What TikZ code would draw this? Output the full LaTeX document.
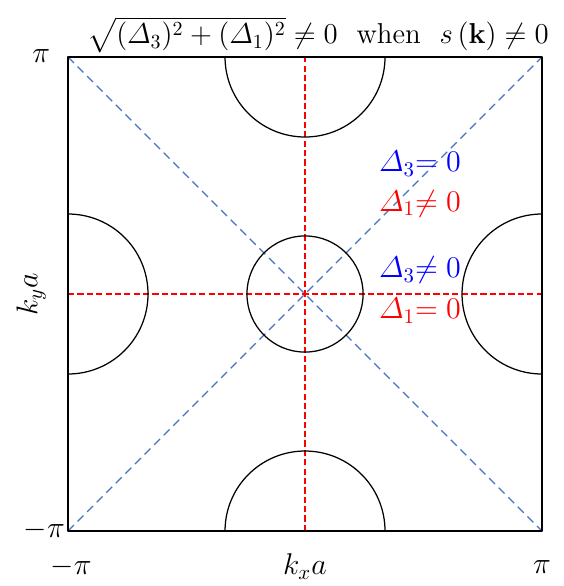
\documentclass[tikz,border=0pt]{standalone}
\usepackage{amsmath,amssymb}
\usetikzlibrary{calc}
\definecolor{diagblue}{RGB}{68,114,196}
\definecolor{gapblue}{RGB}{0,0,255}
\definecolor{gapred}{RGB}{255,0,0}

\begin{document}
\begin{tikzpicture}[line join=round,
 zoneline/.style={black,semithick},
 diagline/.style={diagblue,semithick,dash pattern=on 4pt off 2.5pt},
 axisline/.style={gapred,semithick,dash pattern=on 3pt off 1.5pt},
 ticklbl/.style={font=\Large},
 gaplbl/.style={font=\Large,anchor=center}]
 \useasboundingbox (-5.148,-4.928) rectangle (4.354,4.962);
 \coordinate (sw) at (-4,-4);
 \coordinate (se) at (4,-4);
 \coordinate (ne) at (4,4);
 \coordinate (nw) at (-4,4);
 \draw[diagline] (sw)--(ne);
 \draw[diagline] (nw)--(se);
 \draw[axisline] (-4,0)--(4,0);
 \draw[axisline] (0,-4)--(0,4);
 \draw[zoneline] (0,0) circle (0.98);
 \draw[zoneline] (-1.35,4) arc (180:360:1.35);
 \draw[zoneline] (-1.35,-4) arc (180:0:1.35);
 \draw[zoneline] (-4,1.35) arc (90:-90:1.35);
 \draw[zoneline] (4,1.35) arc (90:270:1.35);
 \draw[zoneline,thick] (sw) rectangle (ne);
 \node[ticklbl] (ytop) at (-4.45,4.02) {$\pi$};
 \node[ticklbl] (ybot) at (-4.4,-3.98) {$-\pi$};
 \node[ticklbl] (xleft) at (-3.95,-4.6) {$-\pi$};
 \node[ticklbl] (xright) at (4.0,-4.6) {$\pi$};
 \node[ticklbl] (xlbl) at (0,-4.6) {$k_xa$};
 \node[ticklbl,rotate=90] (ylbl) at (-4.62,0) {$k_ya$};
 \node[font=\Large,scale=0.96,inner sep=1pt,anchor=base] (title) at (0.22,4.22)
  {$\sqrt{(\varDelta_3)^2+(\varDelta_1)^2}\neq0$\ \ when\ \ $s\left(\mathbf{k}\right)\neq0$};
 \node[gaplbl,gapblue] (d3zero) at (1.94,2.2) {$\varDelta_3{=}\;0$};
 \node[gaplbl,gapred] (d1nz) at (1.94,1.52) {$\varDelta_1{\neq}\;0$};
 \node[gaplbl,gapblue] (d3nz) at (1.94,0.4) {$\varDelta_3{\neq}\;0$};
 \node[gaplbl,gapred] (d1zero) at (1.94,-0.28) {$\varDelta_1{=}\;0$};
\end{tikzpicture}
\end{document}
